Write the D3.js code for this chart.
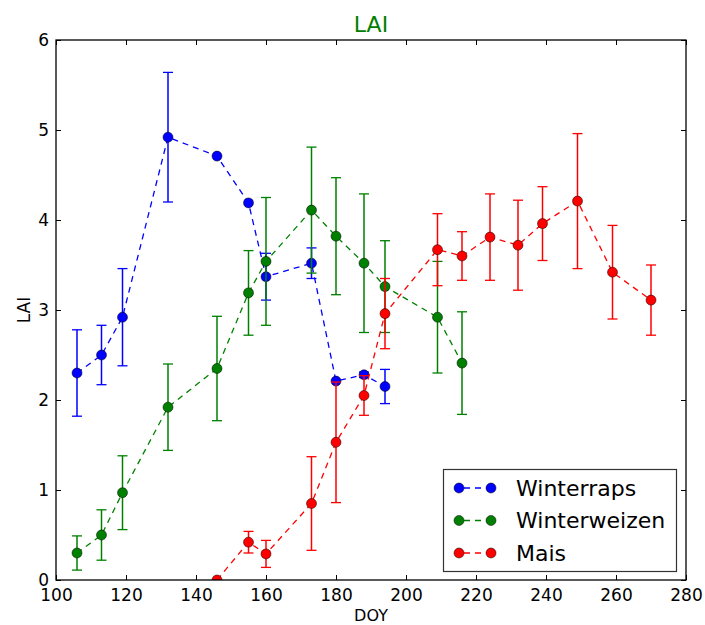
<!DOCTYPE html>
<html>
<head>
<meta charset="utf-8">
<script src="https://cdn.jsdelivr.net/npm/d3@7"></script>
<style>
  html, body { margin: 0; padding: 0; background: #fff; }
  svg { display: block; font-family: "DejaVu Sans", sans-serif; }
</style>
</head>
<body>
<svg id="chart" width="705" height="625"></svg>
<script>
// Day of year and leaf area index (mean, ± error) per crop
const rapsDoy = [106, 113, 119, 132, 146, 155, 160, 173, 180, 188, 194];
const rapsLai = [2.30, 2.50, 2.92, 4.92, 4.71, 4.19, 3.37, 3.52, 2.21, 2.28, 2.15];
const rapsErr = [0.48, 0.33, 0.54, 0.72, 0.00, 0.00, 0.26, 0.17, 0.00, 0.03, 0.19];

const weizenDoy = [106, 113, 119, 132, 146, 155, 160, 173, 180, 188, 194, 209, 216];
const weizenLai = [0.30, 0.50, 0.97, 1.92, 2.35, 3.19, 3.54, 4.11, 3.82, 3.52, 3.26, 2.92, 2.41];
const weizenErr = [0.19, 0.28, 0.41, 0.48, 0.58, 0.47, 0.71, 0.70, 0.65, 0.77, 0.51, 0.62, 0.57];

const maisDoy = [146, 155, 160, 173, 180, 188, 194, 209, 216, 224, 232, 239, 249, 259, 270];
const maisLai = [0.00, 0.42, 0.29, 0.85, 1.53, 2.05, 2.96, 3.67, 3.60, 3.81, 3.72, 3.96, 4.21, 3.42, 3.11];
const maisErr = [0.00, 0.12, 0.15, 0.52, 0.67, 0.22, 0.39, 0.40, 0.27, 0.48, 0.50, 0.41, 0.75, 0.52, 0.39];

const seriesNames = ["Winterraps", "Winterweizen", "Mais"];
const seriesColors = ["#0000ff", "#008000", "#ff0000"];

const xTicks = [100, 120, 140, 160, 180, 200, 220, 240, 260, 280];
const yTicks = [0, 1, 2, 3, 4, 5, 6];

const series = [
  { name: seriesNames[0], color: seriesColors[0], doy: rapsDoy, lai: rapsLai, err: rapsErr },
  { name: seriesNames[1], color: seriesColors[1], doy: weizenDoy, lai: weizenLai, err: weizenErr },
  { name: seriesNames[2], color: seriesColors[2], doy: maisDoy, lai: maisLai, err: maisErr }
];

const svg = d3.select("#chart");
const plot = { left: 56, right: 686, top: 40, bottom: 580 };

const x = d3.scaleLinear().domain([100, 280]).range([plot.left, plot.right]);
const y = d3.scaleLinear().domain([0, 6]).range([plot.bottom, plot.top]);

svg.append("defs").append("clipPath").attr("id", "plotClip")
  .append("rect")
  .attr("x", plot.left).attr("y", plot.top)
  .attr("width", plot.right - plot.left).attr("height", plot.bottom - plot.top);

const tickFont = 17;

// Axes: inward ticks on all four sides, labels on bottom and left
const styleAxis = g => {
  g.select(".domain").remove();
  g.selectAll(".tick line").attr("stroke", "#000").attr("stroke-width", 1);
  g.selectAll(".tick text").attr("fill", "#000").attr("font-size", tickFont)
    .attr("font-family", "DejaVu Sans, sans-serif");
};

svg.append("g").attr("transform", `translate(0,${plot.bottom})`)
  .call(d3.axisBottom(x).tickValues(xTicks).tickFormat(d3.format("d"))
    .tickSizeInner(-5).tickSizeOuter(0).tickPadding(8.5))
  .call(styleAxis);

svg.append("g").attr("transform", `translate(0,${plot.top})`)
  .call(d3.axisTop(x).tickValues(xTicks).tickFormat("")
    .tickSizeInner(-5).tickSizeOuter(0))
  .call(styleAxis);

svg.append("g").attr("transform", `translate(${plot.left},0)`)
  .call(d3.axisLeft(y).tickValues(yTicks).tickFormat(d3.format("d"))
    .tickSizeInner(-5).tickSizeOuter(0).tickPadding(7))
  .call(styleAxis);

svg.append("g").attr("transform", `translate(${plot.right},0)`)
  .call(d3.axisRight(y).tickValues(yTicks).tickFormat("")
    .tickSizeInner(-5).tickSizeOuter(0))
  .call(styleAxis);

// Series: dashed connecting line, error bars with caps, circle markers
const body = svg.append("g").attr("clip-path", "url(#plotClip)");
const line = d3.line().x(d => x(d.doy)).y(d => y(d.lai));
const capHalf = 5;

series.forEach(s => {
  const pts = s.doy.map((d, i) => ({ doy: d, lai: s.lai[i], err: s.err[i] }));
  const g = body.append("g");

  g.append("path").datum(pts)
    .attr("d", line)
    .attr("fill", "none")
    .attr("stroke", s.color)
    .attr("stroke-width", 1.3)
    .attr("stroke-dasharray", "6,5");

  const bars = pts.filter(p => p.err > 0);
  g.selectAll(null).data(bars).enter().append("line")
    .attr("x1", p => x(p.doy)).attr("x2", p => x(p.doy))
    .attr("y1", p => y(p.lai - p.err)).attr("y2", p => y(p.lai + p.err))
    .attr("stroke", s.color).attr("stroke-width", 1.5);
  [-1, 1].forEach(sign => {
    g.selectAll(null).data(bars).enter().append("line")
      .attr("x1", p => x(p.doy) - capHalf).attr("x2", p => x(p.doy) + capHalf)
      .attr("y1", p => y(p.lai + sign * p.err))
      .attr("y2", p => y(p.lai + sign * p.err))
      .attr("stroke", s.color).attr("stroke-width", 1.3);
  });

  g.selectAll(null).data(pts).enter().append("circle")
    .attr("cx", p => x(p.doy)).attr("cy", p => y(p.lai))
    .attr("r", 5)
    .attr("fill", s.color)
    .attr("stroke", "#000").attr("stroke-width", 0.5);
});

// Plot frame
svg.append("rect")
  .attr("x", plot.left).attr("y", plot.top)
  .attr("width", plot.right - plot.left).attr("height", plot.bottom - plot.top)
  .attr("fill", "none").attr("stroke", "#000").attr("stroke-width", 1.3);

// Title and axis labels
svg.append("text")
  .attr("x", (plot.left + plot.right) / 2).attr("y", 32)
  .attr("text-anchor", "middle").attr("font-size", 22).attr("fill", "#008000")
  .text("LAI");

svg.append("text")
  .attr("x", (plot.left + plot.right) / 2).attr("y", 621)
  .attr("text-anchor", "middle").attr("font-size", 16).attr("fill", "#000")
  .text("DOY");

svg.append("text")
  .attr("transform", `translate(30,${(plot.top + plot.bottom) / 2}) rotate(-90)`)
  .attr("text-anchor", "middle").attr("font-size", 17).attr("fill", "#000")
  .text("LAI");

// Legend
const legend = svg.append("g");
legend.append("rect")
  .attr("x", 443.5).attr("y", 469.5).attr("width", 233).attr("height", 102)
  .attr("fill", "#fff").attr("stroke", "#333").attr("stroke-width", 1.2);

series.forEach((s, i) => {
  const ry = 488 + i * 32.5;
  const row = legend.append("g");
  row.append("line")
    .attr("x1", 459).attr("x2", 491).attr("y1", ry).attr("y2", ry)
    .attr("stroke", s.color).attr("stroke-width", 1.3).attr("stroke-dasharray", "6,5")
    .attr("stroke-dashoffset", -5);
  [459, 491].forEach(cx => row.append("circle")
    .attr("cx", cx).attr("cy", ry).attr("r", 5)
    .attr("fill", s.color).attr("stroke", "#000").attr("stroke-width", 0.5));
  row.append("text")
    .attr("x", 516).attr("y", ry).attr("dy", "0.36em")
    .attr("font-size", 22).attr("fill", "#000")
    .text(s.name);
});
</script>
</body>
</html>
